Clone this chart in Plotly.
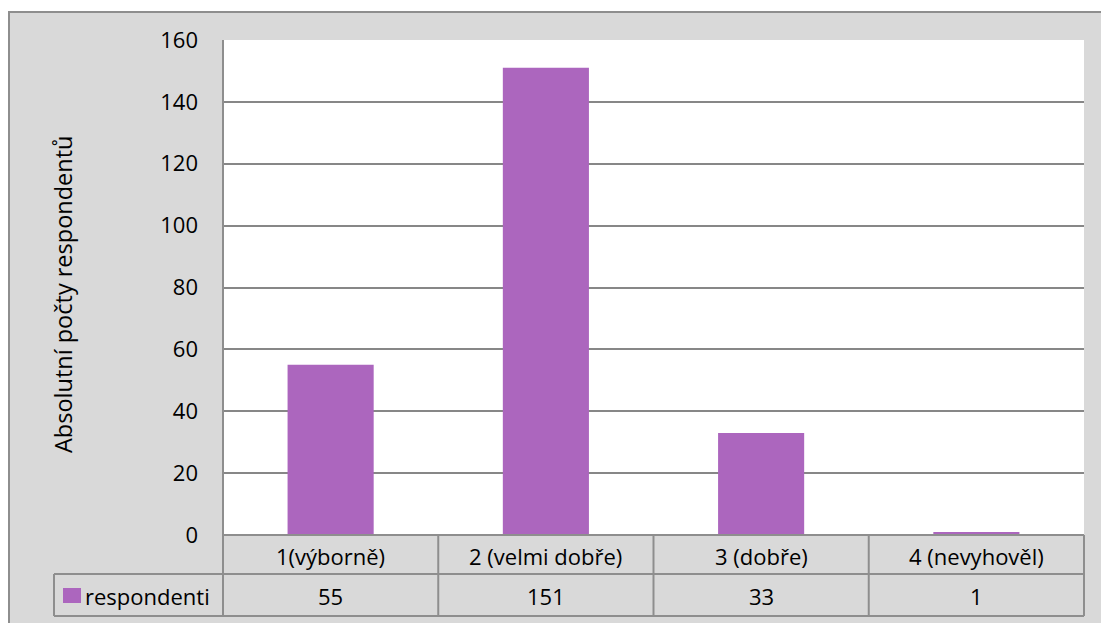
import plotly.graph_objects as go

# Survey results: absolute counts of respondents per grade
categories = ["1(výborně)", "2 (velmi dobře)", "3 (dobře)", "4 (nevyhověl)"]
respondenti = [55, 151, 33, 1]
series_name = "respondenti"
y_title = "Absolutní počty respondentů"
y_ticks = [0, 20, 40, 60, 80, 100, 120, 140, 160]

W, H = 1101, 623
L, R, T, B = 223, 17, 40, 88
PW, PH = W - L - R, H - T - B

BAR = "#AC66BE"
GRID = "#878787"
FRAME = "#8E8E8E"
BG = "#D9D9D9"
FONT = "Open Sans"
FS = 22


def px(x):
    return (x - L) / PW


def py(y):
    return (H - B - y) / PH


fig = go.Figure()
fig.add_trace(go.Bar(x=categories, y=respondenti, marker_color=BAR,
                     marker_line_width=0, name=series_name, showlegend=False))

shapes = [
    # chart area background
    dict(type="rect", xref="paper", yref="paper", x0=px(9), x1=px(1110),
         y0=py(12), y1=py(640), fillcolor=BG, line=dict(color=FRAME, width=2),
         layer="below"),
    # plot area
    dict(type="rect", xref="paper", yref="paper", x0=0, x1=1, y0=0, y1=1,
         fillcolor="white", line_width=0, layer="below"),
]

row1_top, row1_bot, row2_bot = H - B, 574, 616
ncat = len(categories)
col_edges = [L + PW * i / ncat for i in range(ncat + 1)]


def hline(x0, x1, y):
    return dict(type="line", xref="paper", yref="paper", x0=px(x0), x1=px(x1),
                y0=py(y), y1=py(y), line=dict(color=FRAME, width=2))


def vline(x, y0, y1):
    return dict(type="line", xref="paper", yref="paper", x0=px(x), x1=px(x),
                y0=py(y0), y1=py(y1), line=dict(color=FRAME, width=2))


shapes += [hline(L, W - R, row1_top), hline(54, W - R, row1_bot),
           hline(54, W - R, row2_bot), vline(54, row1_bot, row2_bot),
           vline(L, T, row2_bot)]
for xe in col_edges[1:]:
    shapes.append(vline(xe, row1_top, row2_bot))

# legend key in the data table
shapes.append(dict(type="rect", xref="paper", yref="paper", x0=px(63), x1=px(81),
                   y0=py(588), y1=py(603), fillcolor=BAR, line_width=0))


def label(x, y, text, xanchor="center", angle=0, size=FS):
    return dict(x=px(x), y=py(y), xref="paper", yref="paper", text=text,
                showarrow=False, xanchor=xanchor, yanchor="middle", textangle=angle,
                font=dict(size=size, color="#000", family=FONT))


annotations = []
for i, (cat, val) in enumerate(zip(categories, respondenti)):
    cx = (col_edges[i] + col_edges[i + 1]) / 2
    annotations.append(label(cx, (row1_top + row1_bot) / 2 + 1, cat))
    annotations.append(label(cx, (row1_bot + row2_bot) / 2 + 1, str(val)))

annotations.append(label(83, (row1_bot + row2_bot) / 2 + 1, series_name, xanchor="left"))
annotations.append(label(63, 295, y_title, angle=-90, size=23.5))

fig.update_layout(
    width=W, height=H,
    margin=dict(l=L, r=R, t=T, b=B, pad=0),
    paper_bgcolor="white",
    plot_bgcolor="rgba(0,0,0,0)",
    bargap=0.6,
    shapes=shapes,
    annotations=annotations,
    font=dict(family=FONT, size=FS, color="#000"),
    xaxis=dict(showticklabels=False, showgrid=False, zeroline=False, showline=False,
               ticks=""),
    yaxis=dict(range=[0, 160], tickvals=y_ticks, showgrid=True, gridcolor=GRID,
               gridwidth=2, zeroline=False, showline=False, ticks="",
               ticklabelstandoff=24, tickfont=dict(size=FS, color="#000", family=FONT)),
)

fig.write_html("out.html")
